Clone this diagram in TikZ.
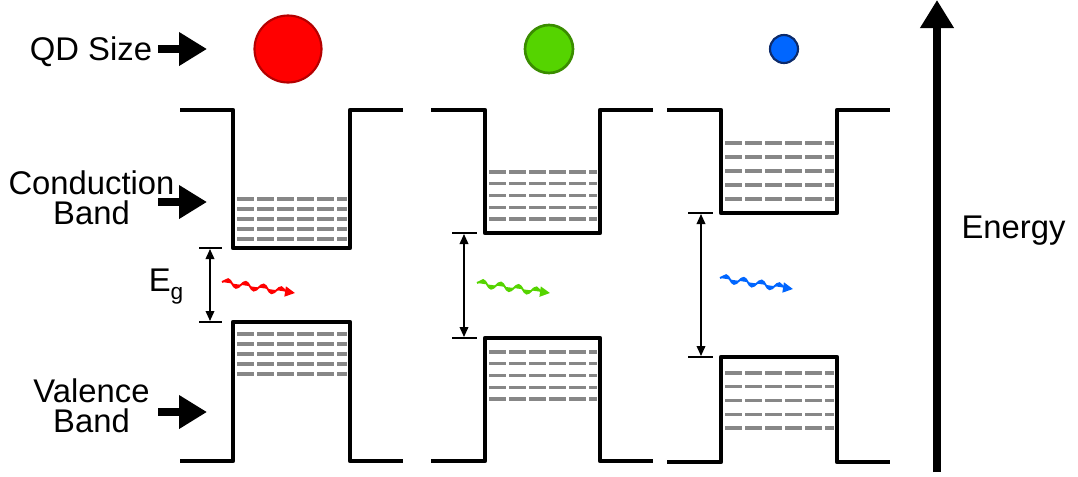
\documentclass[tikz,border=0pt]{standalone}
\usepackage{fontspec}
\setmainfont{Liberation Sans}
\usetikzlibrary{arrows.meta,decorations.pathmorphing}
\definecolor{lvl}{RGB}{135,135,135}
\definecolor{qdred}{RGB}{255,0,0}
\definecolor{qdredb}{RGB}{180,0,0}
\definecolor{qdgreen}{RGB}{85,212,0}
\definecolor{qdgreenb}{RGB}{58,140,0}
\definecolor{qdblue}{RGB}{0,102,255}
\definecolor{qdblueb}{RGB}{13,43,107}
\begin{document}
\begin{tikzpicture}[x=0.75pt,y=-0.75pt,
  band/.style={line width=3.4pt, line join=round},
  level/.style={draw=lvl, line width=2.4pt, dash pattern=on 12.75pt off 2.25pt},
  bigarrow/.style={line width=5.5pt, -{Triangle[length=21pt,width=24pt]}},
  gaparrow/.style={line width=1.1pt, {Triangle[length=7.5pt,width=6.5pt]}-{Triangle[length=7.5pt,width=6.5pt]}},
  gaptick/.style={line width=2.2pt},
  photon/.style={line width=1.4pt, decorate,
    decoration={snake,amplitude=2.8pt,segment length=13.5pt,post length=6pt},
    -{Triangle[length=7.5pt,width=7.5pt]}},
  lbl/.style={font=\fontsize{24.6}{22.5}\selectfont, inner sep=0pt, align=center}]
\useasboundingbox (0,0) rectangle (1078,476);

% labels
\node[lbl, anchor=base] (qd) at (91,60) {QD Size};
\node[lbl, anchor=north] (cbl) at (91.5,170) {Conduction\\Band};
\node[lbl, anchor=north] (vbl) at (91.5,378) {Valence\\Band};
\node[lbl, anchor=base] (en) at (1013.5,238) {Energy};
\node[lbl, anchor=base west] (eg) at (148.5,291) {E\raisebox{-6.5pt}{\fontsize{17}{17}\selectfont g}};

% label arrows
\coordinate (qdA) at (158,49);  \coordinate (qdB) at (207,49);
\coordinate (cbA) at (158,202); \coordinate (cbB) at (207,202);
\coordinate (vbA) at (158,412); \coordinate (vbB) at (207,412);
\draw[bigarrow] (qdA) -- (qdB);
\draw[bigarrow] (cbA) -- (cbB);
\draw[bigarrow] (vbA) -- (vbB);

% energy axis
\coordinate (eA) at (937,472); \coordinate (eB) at (937,0);
\draw[bigarrow] (eA) -- (eB);

% dots
\node[circle, fill=qdred, draw=qdredb, line width=1.6pt, minimum size=67*0.75pt, inner sep=0pt] (dr) at (288,49) {};
\node[circle, fill=qdgreen, draw=qdgreenb, line width=2pt, minimum size=48*0.75pt, inner sep=0pt] (dg) at (549,49) {};
\node[circle, fill=qdblue, draw=qdblueb, line width=1.6pt, minimum size=28*0.75pt, inner sep=0pt] (db) at (784,49) {};

% ---- well 1 ----
\draw[band] (180,110) -- (233,110) -- (233,248) -- (350,248) -- (350,110) -- (403,110);
\draw[band] (180,461) -- (233,461) -- (233,322) -- (350,322) -- (350,461) -- (403,461);
\foreach \y in {199,209,219,229,239} \draw[level] (237,\y) -- (347,\y);
\foreach \y in {334,344,354,364,374} \draw[level] (237,\y) -- (347,\y);
\draw[gaptick] (199,248) -- (222,248);
\draw[gaptick] (199,322) -- (222,322);
\coordinate (g1a) at (210,249); \coordinate (g1b) at (210,321);
\draw[gaparrow] (g1a) -- (g1b);
\coordinate (p1a) at (222,282); \coordinate (p1b) at (295,293);
\draw[photon, draw=qdred, fill=qdred] (p1a) -- (p1b);

% ---- well 2 ----
\draw[band] (431,110) -- (485,110) -- (485,233) -- (600,233) -- (600,110) -- (653,110);
\draw[band] (431,461) -- (485,461) -- (485,338) -- (600,338) -- (600,461) -- (653,461);
\foreach \i in {0,...,4} \draw[level] (489,172+11.75*\i) -- (597,172+11.75*\i);
\foreach \i in {0,...,4} \draw[level] (489,352+11.75*\i) -- (597,352+11.75*\i);
\draw[gaptick] (452,233) -- (477,233);
\draw[gaptick] (452,338) -- (477,338);
\coordinate (g2a) at (464,234); \coordinate (g2b) at (464,337);
\draw[gaparrow] (g2a) -- (g2b);
\coordinate (p2a) at (477,283); \coordinate (p2b) at (550,293);
\draw[photon, draw=qdgreen, fill=qdgreen] (p2a) -- (p2b);

% ---- well 3 ----
\draw[band] (667,110) -- (721,110) -- (721,213) -- (837,213) -- (837,110) -- (890,110);
\draw[band] (667,462) -- (721,462) -- (721,357) -- (837,357) -- (837,462) -- (890,462);
\foreach \i in {0,...,4} \draw[level] (725,143+14*\i) -- (834,143+14*\i);
\foreach \i in {0,...,4} \draw[level] (725,373+13.75*\i) -- (834,373+13.75*\i);
\draw[gaptick] (688,213) -- (713,213);
\draw[gaptick] (688,357) -- (713,357);
\coordinate (g3a) at (701,214); \coordinate (g3b) at (701,356);
\draw[gaparrow] (g3a) -- (g3b);
\coordinate (p3a) at (720,278); \coordinate (p3b) at (793,289);
\draw[photon, draw=qdblue, fill=qdblue] (p3a) -- (p3b);
\end{tikzpicture}
\end{document}
